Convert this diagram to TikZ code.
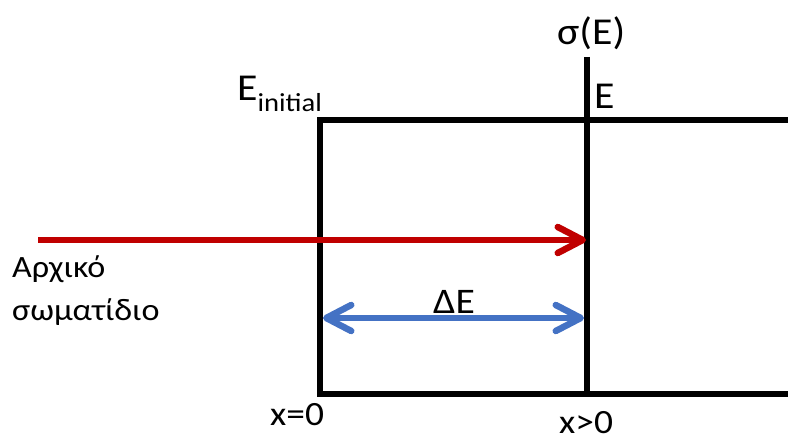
\documentclass[tikz,border=0pt]{standalone}
\usepackage{fontspec}
\setmainfont[FakeStretch=1.1]{Carlito}
\usetikzlibrary{arrows.meta}
\definecolor{pred}{HTML}{C00000}
\definecolor{pblue}{HTML}{4472C4}
\tikzset{
  wall/.style={line width=6pt, black, line cap=butt},
  chev/.tip={Straight Barb[length=25pt, width=26pt, line cap=round, line join=round]},
  beam/.style={line width=6.5pt, pred, -{chev}},
  span/.style={line width=6.5pt, pblue, {chev}-{chev}},
  lbl/.style={inner sep=0pt, font=\fontsize{34}{40}\selectfont},
  dlbl/.style={inner sep=0pt, font=\fontsize{36}{40}\selectfont},
  grk/.style={inner sep=0pt, font=\fontsize{31}{36}\selectfont},
  biglbl/.style={inner sep=0pt, font=\fontsize{38}{42}\selectfont}
}
\begin{document}
\begin{tikzpicture}[x=1pt,y=-1pt]
\useasboundingbox (0,0) rectangle (788,436);
% coordinates
\coordinate (tr) at (788,120);
\coordinate (tl) at (320,120);
\coordinate (bl) at (320,394);
\coordinate (br) at (788,394);
\coordinate (vt) at (587,57);
\coordinate (vb) at (587,397);
\coordinate (rs) at (38,240);
\coordinate (re) at (586,240);
\coordinate (bs) at (323,318);
\coordinate (be) at (584,318);
% walls
\draw[wall, line join=miter] (tr) -- (tl) -- (bl) -- (br);
\draw[wall] (vt) -- (vb);
% arrows
\draw[beam] (rs) -- (re);
\draw[span] (bs) -- (be);
% labels
\node[biglbl, anchor=base west] (sig) at (557,45) {σ(E)};
\node[biglbl, anchor=base west] (e) at (594,109) {E};
\node[biglbl, anchor=base west] (ei) at (237,101) {E\raisebox{-10pt}{\fontsize{26}{30}\selectfont initial}};
\node[dlbl, anchor=base west] (de) at (433,313) {ΔE};
\node[grk, anchor=base west] (g1) at (12,277) {Αρχικό};
\node[grk, anchor=base west] (g2) at (12,320) {σωματίδιο};
\node[lbl, anchor=base west] (x0) at (270,425) {x=0};
\node[lbl, anchor=base west] (xp) at (559,433) {x>0};
\end{tikzpicture}
\end{document}
